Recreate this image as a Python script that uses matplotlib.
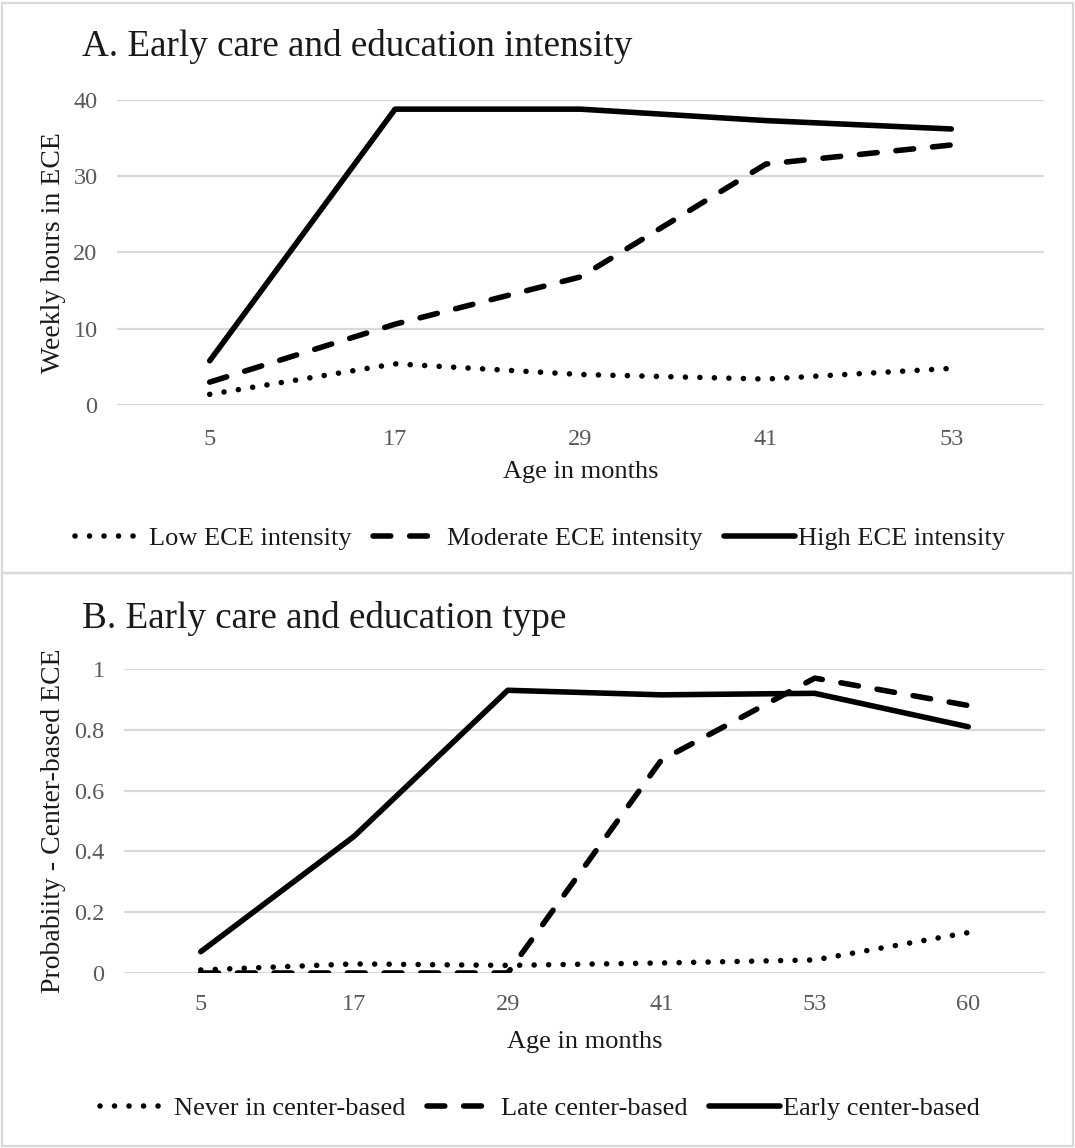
import matplotlib
matplotlib.use("Agg")
import matplotlib.pyplot as plt
from matplotlib.patches import Rectangle

plt.rcParams['font.family'] = ['Liberation Serif', 'DejaVu Serif']

# Panel A: weekly hours in early care and education, by intensity class
ages_a = ["5", "17", "29", "41", "53"]
low_intensity = [1.4, 5.4, 4.0, 3.4, 4.8]
moderate_intensity = [3.0, 10.6, 16.8, 31.6, 34.1]
high_intensity = [5.8, 38.8, 38.8, 37.3, 36.2]
labels_a = ["Low ECE intensity", "Moderate ECE intensity", "High ECE intensity"]

# Panel B: probability of center-based care, by type class
ages_b = ["5", "17", "29", "41", "53", "60"]
never_center = [0.01, 0.03, 0.025, 0.033, 0.043, 0.133]
late_center = [0.0, 0.0, 0.0, 0.70, 0.97, 0.88]
early_center = [0.07, 0.45, 0.93, 0.915, 0.92, 0.81]
labels_b = ["Never in center-based", "Late center-based", "Early center-based"]

W, H = 1075, 1148
fig = plt.figure(figsize=(W / 100, H / 100), dpi=100)

GRID = "#d9d9d9"
TICK = "#595959"
TXT = "#1a1a1a"
LW = 4.0
styles = [
    dict(linestyle=(0, (0.01, 2.6)), dash_capstyle="round"),
    dict(linestyle=(0, (3.2, 3.4)), dash_capstyle="round"),
    dict(linestyle="-", solid_capstyle="round"),
]

# panel frames
for y0, y1 in [(3, 573), (573, 1146)]:
    fig.patches.append(Rectangle((2 / W, 1 - y1 / H), 1071 / W, (y1 - y0) / H,
                                 transform=fig.transFigure, fill=False,
                                 edgecolor=GRID, linewidth=1.6))


def panel(rect, cats, series, labels, ylim, yticks, yticklabels, ylabel,
          title, title_y, xlab_y, ylab_x, leg_y, xpad):
    ax = fig.add_axes(rect)
    x = list(range(len(cats)))
    handles = []
    for vals, lab, st in zip(series, labels, styles):
        h, = ax.plot(x, vals, color="black", lw=LW, label=lab,
                     solid_joinstyle="round", **st)
        handles.append(h)
    ax.set_xlim(-0.5, len(cats) - 0.5)
    ax.set_ylim(*ylim)
    ax.set_yticks(yticks)
    ax.set_yticklabels(yticklabels)
    ax.set_xticks(x)
    ax.set_xticklabels(cats)
    ax.grid(axis="y", color=GRID, lw=1.6)
    ax.set_axisbelow(True)
    for s in ax.spines.values():
        s.set_visible(False)
    ax.tick_params(axis="both", length=0, labelsize=17.5, colors=TICK)
    ax.tick_params(axis="x", pad=xpad)
    ax.tick_params(axis="y", pad=14)
    ax.set_xlabel("Age in months", fontsize=19, color=TXT)
    ax.set_ylabel(ylabel, fontsize=20, color=TXT)
    # label positions in figure pixels
    bb = ax.get_position()
    ax.xaxis.set_label_coords(0.5, (1 - xlab_y / H - bb.y0) / bb.height)
    ax.yaxis.set_label_coords((ylab_x / W - bb.x0) / bb.width, 0.5)
    fig.text(82 / W, 1 - title_y / H, title, fontsize=26.7, color=TXT,
             ha="left", va="center")
    ax.legend(handles=handles, loc="center",
              bbox_to_anchor=(540 / W, 1 - leg_y / H),
              bbox_transform=fig.transFigure,
              ncol=3, frameon=False, fontsize=19, handlelength=2.7,
              handletextpad=0.12, columnspacing=0.8, labelcolor=TXT)
    return ax


panel([117 / W, 1 - 405 / H, 927 / W, 305 / H], ages_a,
      [low_intensity, moderate_intensity, high_intensity], labels_a,
      (0, 40), [0, 10, 20, 30, 40], ["0", "10", "20", "30", "40"],
      "Weekly hours in ECE", "A. Early care and education intensity",
      46, 461, 66, 538, 17)

panel([124 / W, 1 - 973 / H, 921 / W, 304 / H], ages_b,
      [never_center, late_center, early_center], labels_b,
      (0, 1), [0, 0.2, 0.4, 0.6, 0.8, 1.0],
      ["0", "0.2", "0.4", "0.6", "0.8", "1"],
      "Probabiity - Center-based ECE", "B. Early care and education type",
      619, 1031, 66, 1108, 15)

fig.savefig("out.png", dpi=100)
